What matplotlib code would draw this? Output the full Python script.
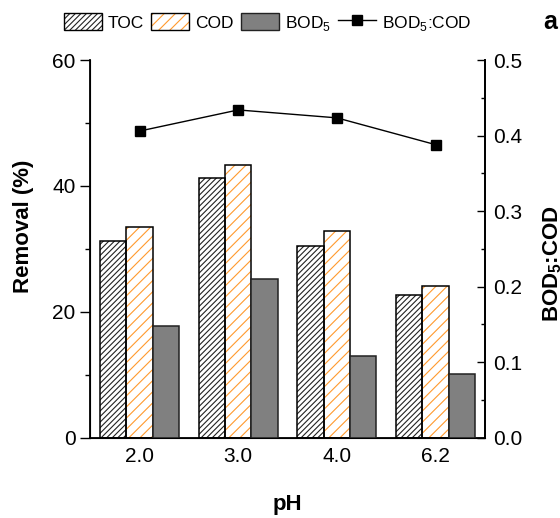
import matplotlib
matplotlib.use("Agg")
import matplotlib.pyplot as plt
import numpy as np
from matplotlib.patches import Patch
from matplotlib.lines import Line2D
from matplotlib.legend_handler import HandlerTuple
from matplotlib.ticker import MultipleLocator, FormatStrFormatter

plt.rcParams['font.family'] = ['Liberation Sans', 'DejaVu Sans']
plt.rcParams['mathtext.fontset'] = 'custom'
plt.rcParams['mathtext.rm'] = 'Liberation Sans'
plt.rcParams['mathtext.bf'] = 'Liberation Sans:bold'
plt.rcParams['hatch.linewidth'] = 0.8

ph_labels = ['2.0', '3.0', '4.0', '6.2']
toc = [31.2, 41.3, 30.5, 22.7]
cod = [33.5, 43.4, 32.8, 24.1]
bod5 = [17.7, 25.2, 13.0, 10.1]
bod_cod = [0.406, 0.434, 0.4235, 0.388]

orange = '#FF9A2E'
gray = '#808080'

fig = plt.figure(figsize=(5.6, 5.18), dpi=100)
ax = fig.add_axes([0.161, 0.155, 0.705, 0.729])
x = np.arange(len(ph_labels))
w = 0.8 / 3

ax.bar(x - w, toc, w, facecolor='white', edgecolor='#222222', hatch='//////', linewidth=0, zorder=2)
ax.bar(x - w, toc, w, fill=False, edgecolor='black', linewidth=1.1, zorder=3)
ax.bar(x, cod, w, facecolor='white', edgecolor=orange, hatch='///', linewidth=0, zorder=2)
ax.bar(x, cod, w, fill=False, edgecolor='black', linewidth=1.1, zorder=3)
ax.bar(x + w, bod5, w, facecolor=gray, edgecolor='#222222', linewidth=1.1, zorder=3)

ax.set_xlim(-0.5, 3.5)
ax.set_ylim(0, 60)
ax.set_xticks(x)
ax.set_xticklabels(ph_labels)
ax.yaxis.set_major_locator(MultipleLocator(20))
ax.yaxis.set_minor_locator(MultipleLocator(10))
ax.tick_params(axis='x', length=0, pad=7, labelsize=15)
ax.tick_params(axis='y', which='major', direction='out', length=7.5, width=1, pad=3, labelsize=15)
ax.tick_params(axis='y', which='minor', direction='out', length=3.5, width=1)
ax.spines['top'].set_visible(False)
for s in ['left', 'bottom', 'right']:
    ax.spines[s].set_linewidth(1.3)
ax.set_ylabel('Removal (%)', fontsize=16, fontweight='bold')
ax.yaxis.set_label_coords(-0.142, 0.56)
ax.set_xlabel('pH', fontsize=16, fontweight='bold', labelpad=20)

ax2 = ax.twinx()
ax2.plot(x, bod_cod, color='black', linewidth=1.0, marker='s', markersize=6.5, zorder=4)
ax2.set_ylim(0, 0.5)
ax2.yaxis.set_major_locator(MultipleLocator(0.1))
ax2.yaxis.set_minor_locator(MultipleLocator(0.05))
ax2.yaxis.set_major_formatter(FormatStrFormatter('%.1f'))
ax2.tick_params(axis='y', which='major', direction='in', length=6, width=1, pad=6, labelsize=15)
ax2.tick_params(axis='y', which='minor', direction='in', length=3, width=1)
ax2.spines['top'].set_visible(False)
ax2.spines['right'].set_linewidth(1.3)
ax2.set_ylabel('BOD$_\\mathbf{5}$:COD', fontsize=16, fontweight='bold')
ax2.yaxis.set_label_coords(1.142, 0.46)

h_toc = (Patch(facecolor='white', edgecolor='#222222', hatch='//////', linewidth=0),
         Patch(fill=False, edgecolor='black', linewidth=1.0))
h_cod = (Patch(facecolor='white', edgecolor=orange, hatch='///', linewidth=0),
         Patch(fill=False, edgecolor='black', linewidth=1.0))
h_bod = Patch(facecolor=gray, edgecolor='#222222', linewidth=1.0)
h_line = Line2D([], [], color='black', linewidth=1.0, marker='s', markersize=6.5)
fig.legend([h_toc, h_cod, h_bod, h_line], ['TOC', 'COD', 'BOD$_5$', 'BOD$_5$:COD'],
           handler_map={tuple: HandlerTuple(ndivide=1, pad=0)},
           loc='center', bbox_to_anchor=(0.478, 0.956), ncol=4, frameon=False,
           fontsize=12.5, handlelength=2.2, handleheight=1.15, handletextpad=0.35,
           columnspacing=0.4, borderaxespad=0)
fig.text(0.982, 0.958, 'a', fontsize=18, fontweight='bold', ha='center', va='center')

fig.savefig('out.png', dpi=100)
